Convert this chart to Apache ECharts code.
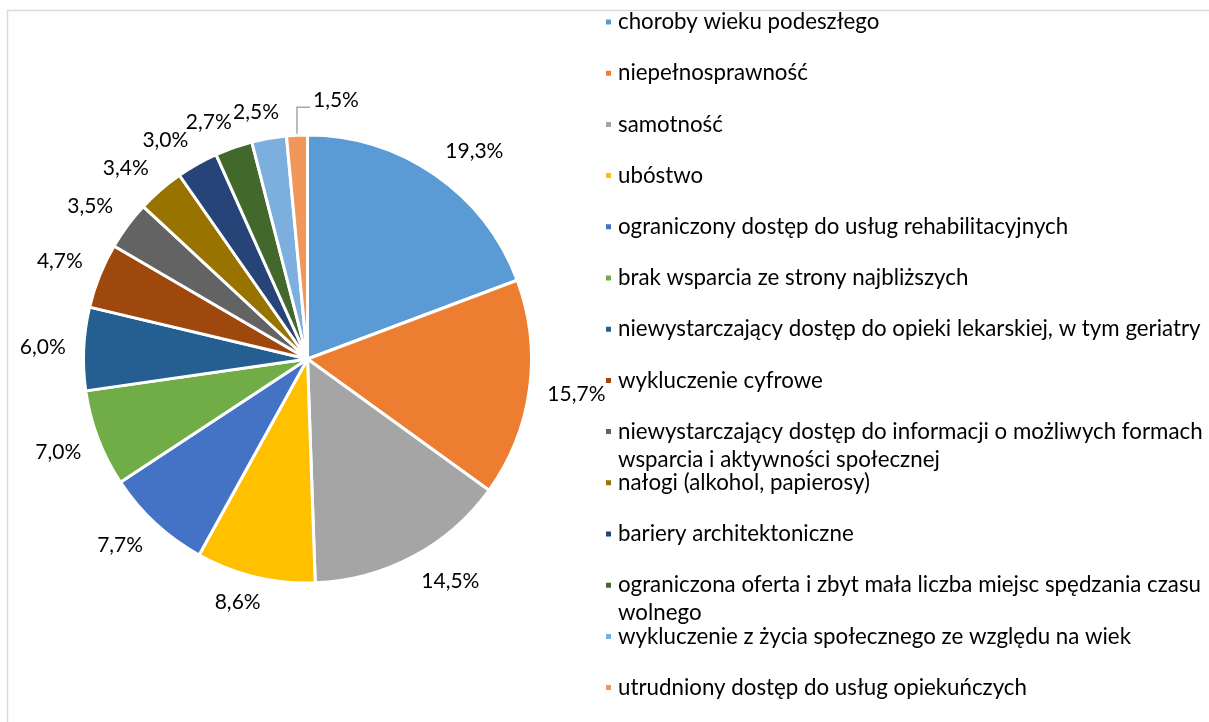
<!DOCTYPE html>
<html>
<head>
<meta charset="utf-8">
<script src="https://cdn.jsdelivr.net/npm/echarts@6/dist/echarts.min.js"></script>
<style>
html,body{margin:0;padding:0;background:#fff;}
#chart{width:1209px;height:722px;}
</style>
</head>
<body>
<div id="chart"></div>
<script>
// ---- data ----
const categories = [
  'choroby wieku podeszłego',
  'niepełnosprawność',
  'samotność',
  'ubóstwo',
  'ograniczony dostęp do usług rehabilitacyjnych',
  'brak wsparcia ze strony najbliższych',
  'niewystarczający dostęp do opieki lekarskiej, w tym geriatry',
  'wykluczenie cyfrowe',
  'niewystarczający dostęp do informacji o możliwych formach\nwsparcia i aktywności społecznej',
  'nałogi (alkohol, papierosy)',
  'bariery architektoniczne',
  'ograniczona oferta i zbyt mała liczba miejsc spędzania czasu\nwolnego',
  'wykluczenie z życia społecznego ze względu na wiek',
  'utrudniony dostęp do usług opiekuńczych'
];
const values = [19.3, 15.7, 14.5, 8.6, 7.7, 7.0, 6.0, 4.7, 3.5, 3.4, 3.0, 2.7, 2.5, 1.5];
const colors = ['#5B9BD5', '#ED7D31', '#A5A5A5', '#FFC000', '#4472C4', '#70AD47', '#255E91',
                '#9E480E', '#636363', '#997300', '#264478', '#43682B', '#7CAFDD', '#F1975A'];

// ---- layout / style ----
const FONT = 'Lato';
const CX = 307.5, CY = 359, R = 224;
const LABEL_DIST = 18;
const ANCHOR_K = 2.5;
const LEADER_INDEX = 13;
const LEG_LEFT = 604, LEG_TOP0 = 22, LEG_STEP = 51.2, LINE_H = 28;

const total = values.reduce((a, b) => a + b, 0);
function midAngle(i) {
  let cum = 0;
  for (let k = 0; k < i; k++) cum += values[k];
  return (cum + values[i] / 2) / total * 2 * Math.PI;
}
const clamp1 = t => Math.max(-1, Math.min(1, t));

const chart = echarts.init(document.getElementById('chart'), null, {renderer: 'canvas'});

const legends = categories.map((name, i) => {
  const wrapped = name.indexOf('\n') >= 0;
  const yc = LEG_TOP0 + i * LEG_STEP;
  return {
    data: [name],
    left: LEG_LEFT,
    top: wrapped ? yc - LINE_H * 1.5 : yc - LINE_H / 2,
    orient: 'vertical',
    padding: 0,
    itemWidth: 7,
    itemHeight: 7,
    icon: 'rect',
    // a blank first line keeps the marker level with the first text line
    formatter: n => (n.indexOf('\n') >= 0 ? ' \n' + n : n),
    textStyle: {
      fontFamily: FONT,
      fontSize: 22.3,
      color: '#000',
      lineHeight: LINE_H,
      padding: [0, 0, 0, 1]
    }
  };
});

const option = {
  animation: false,
  color: colors,
  graphic: [{
    type: 'rect',
    shape: {x: 7.5, y: 10.5, width: 1400, height: 900},
    style: {fill: 'none', stroke: '#d9d9d9', lineWidth: 1.5},
    silent: true,
    z: -10
  }],
  legend: legends,
  series: [{
    type: 'pie',
    center: [CX, CY],
    radius: R,
    startAngle: 90,
    clockwise: true,
    avoidLabelOverlap: false,
    itemStyle: {borderColor: '#fff', borderWidth: 3},
    emphasis: {scale: false},
    label: {
      show: true,
      position: 'outside',
      fontFamily: FONT,
      fontSize: 21,
      color: '#000',
      formatter: p => p.value.toFixed(1).replace('.', ',') + '%'
    },
    labelLine: {show: false, lineStyle: {color: '#a6a6a6', width: 1.5}},
    labelLayout: function (params) {
      const i = params.dataIndex;
      const a = midAngle(i);
      const ux = Math.sin(a), uy = -Math.cos(a);
      if (i === LEADER_INDEX) {
        const p0 = [CX + R * ux, CY + R * uy];
        const p1 = [p0[0], p0[1] - 28];
        const p2 = [p1[0] + 13, p1[1]];
        return {
          x: p2[0] + 3, y: p1[1] - 7,
          align: 'left', verticalAlign: 'middle',
          labelLinePoints: [p0, p1, p2]
        };
      }
      const hw = params.labelRect.width / 2, hh = params.labelRect.height * 0.4;
      const px = CX + (R + LABEL_DIST) * ux, py = CY + (R + LABEL_DIST) * uy;
      return {
        x: px + hw * clamp1(ANCHOR_K * ux),
        y: py + hh * clamp1(ANCHOR_K * uy),
        align: 'center', verticalAlign: 'middle'
      };
    },
    data: categories.map((name, i) => ({
      name: name,
      value: values[i],
      labelLine: {show: i === LEADER_INDEX}
    }))
  }]
};
chart.setOption(option);
</script>
</body>
</html>
